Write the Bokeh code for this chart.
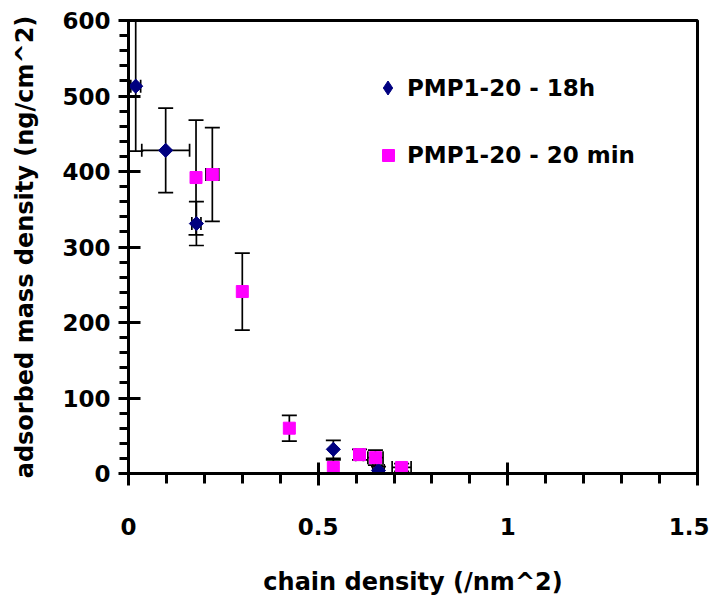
import numpy as np
from bokeh.plotting import figure
from bokeh.models import (ColumnDataSource, Whisker, TeeHead, Legend, LegendItem,
                          Range1d, SingleIntervalTicker, NumeralTickFormatter)
from bokeh.embed import file_html
from bokeh.resources import INLINE

# ---- data ----
x_18h = [0.019, 0.098, 0.179, 0.540, 0.659]
y_18h = [513, 428, 331, 32, 4]
yerr_18h = [86, 56, 29, 12, 5]
xerr_18h = [0.013, 0.063, 0.012, 0.0, 0.015]

x_20m = [0.178, 0.221, 0.300, 0.424, 0.540, 0.609, 0.651, 0.720]
y_20m = [392, 396, 241, 60, 8, 25, 21, 8]
yerr_20m = [76, 62, 51, 17, 10, 7, 10, 5]
xerr_20m = [0.0, 0.017, 0.0, 0.0, 0.0, 0.010, 0.020, 0.025]

label_18h = "PMP1-20 - 18h"
label_20m = "PMP1-20 - 20 min"
x_title = "chain density (/nm^2)"
y_title = "adsorbed mass density (ng/cm^2)"

NAVY = "#000080"
MAGENTA = "#FF00FF"
FONT = "DejaVu Sans"

p = figure(frame_width=569, frame_height=453,
           x_range=Range1d(0, 1.5), y_range=Range1d(0, 600),
           output_backend="svg", toolbar_location=None,
           min_border_left=128, min_border_top=20, min_border_right=12,
           min_border_bottom=122)

p.xgrid.visible = False
p.ygrid.visible = False
p.outline_line_color = "black"
p.outline_line_width = 3
p.background_fill_color = "white"
p.border_fill_color = "white"

p.xaxis.ticker = SingleIntervalTicker(interval=0.5, num_minor_ticks=5)
p.yaxis.ticker = SingleIntervalTicker(interval=100, num_minor_ticks=5)
p.xaxis.formatter = NumeralTickFormatter(format="0.[0]")

for ax in (p.xaxis, p.yaxis):
    ax.axis_line_width = 3
    ax.axis_line_color = "black"
    ax.major_tick_line_width = 3
    ax.minor_tick_line_width = 3
    ax.major_tick_line_color = "black"
    ax.minor_tick_line_color = "black"
    ax.minor_tick_in = 0
    ax.major_label_text_font = FONT
    ax.major_label_text_font_style = "bold"
    ax.major_label_text_font_size = "23px"
    ax.major_label_text_color = "black"
    ax.axis_label_text_font = FONT
    ax.axis_label_text_font_style = "bold"
    ax.axis_label_text_font_size = "24px"
    ax.axis_label_text_color = "black"

p.xaxis.major_tick_in = 11
p.xaxis.major_tick_out = 12
p.xaxis.minor_tick_out = 10
p.xaxis.major_label_standoff = 32
p.xaxis.axis_label_standoff = 30
p.xaxis.axis_label = x_title

p.yaxis.major_tick_in = 12
p.yaxis.major_tick_out = 10
p.yaxis.minor_tick_out = 9
p.yaxis.major_label_standoff = 8
p.yaxis.axis_label_standoff = 20
p.yaxis.axis_label = y_title


def add_errors(xs, ys, xerr, yerr):
    ysrc = ColumnDataSource(dict(base=xs,
                                 lower=[y - e for y, e in zip(ys, yerr)],
                                 upper=[y + e for y, e in zip(ys, yerr)]))
    w = Whisker(source=ysrc, base="base", lower="lower", upper="upper",
                dimension="height", line_color="black", line_width=1.7,
                upper_head=TeeHead(size=15, line_color="black", line_width=1.7),
                lower_head=TeeHead(size=15, line_color="black", line_width=1.7))
    p.add_layout(w)
    idx = [i for i, e in enumerate(xerr) if e > 0]
    xsrc = ColumnDataSource(dict(base=[ys[i] for i in idx],
                                 lower=[xs[i] - xerr[i] for i in idx],
                                 upper=[xs[i] + xerr[i] for i in idx]))
    wx = Whisker(source=xsrc, base="base", lower="lower", upper="upper",
                 dimension="width", line_color="black", line_width=1.7,
                 upper_head=TeeHead(size=13, line_color="black", line_width=1.7),
                 lower_head=TeeHead(size=13, line_color="black", line_width=1.7))
    p.add_layout(wx)


add_errors(x_18h, y_18h, xerr_18h, yerr_18h)
add_errors(x_20m, y_20m, xerr_20m, yerr_20m)

# diamond-shaped copy (sits inside the rotated squares; used for the legend glyph)
r18_leg = p.scatter(x_18h, y_18h, marker="diamond", size=13,
                    fill_color=NAVY, line_color=NAVY)
r18 = p.scatter(x_18h, y_18h, marker="square", angle=np.pi / 4, size=10,
                fill_color=NAVY, line_color=NAVY)
r20 = p.scatter(x_20m, y_20m, marker="square", size=12,
                fill_color=MAGENTA, line_color=MAGENTA)

common = dict(padding=0, margin=0, border_line_color=None,
              background_fill_alpha=0, label_text_font=FONT,
              label_text_font_style="bold", label_text_font_size="23px",
              label_text_color="black")
leg1 = Legend(items=[LegendItem(label=label_18h, renderers=[r18_leg])],
              location=(242, 368), glyph_width=35, glyph_height=35,
              label_standoff=2, **common)
leg2 = Legend(items=[LegendItem(label=label_20m, renderers=[r20])],
              location=(245, 303), glyph_width=30, glyph_height=30,
              label_standoff=4, **common)
p.add_layout(leg1)
p.add_layout(leg2)

open("out.html", "w").write(file_html(p, INLINE))
